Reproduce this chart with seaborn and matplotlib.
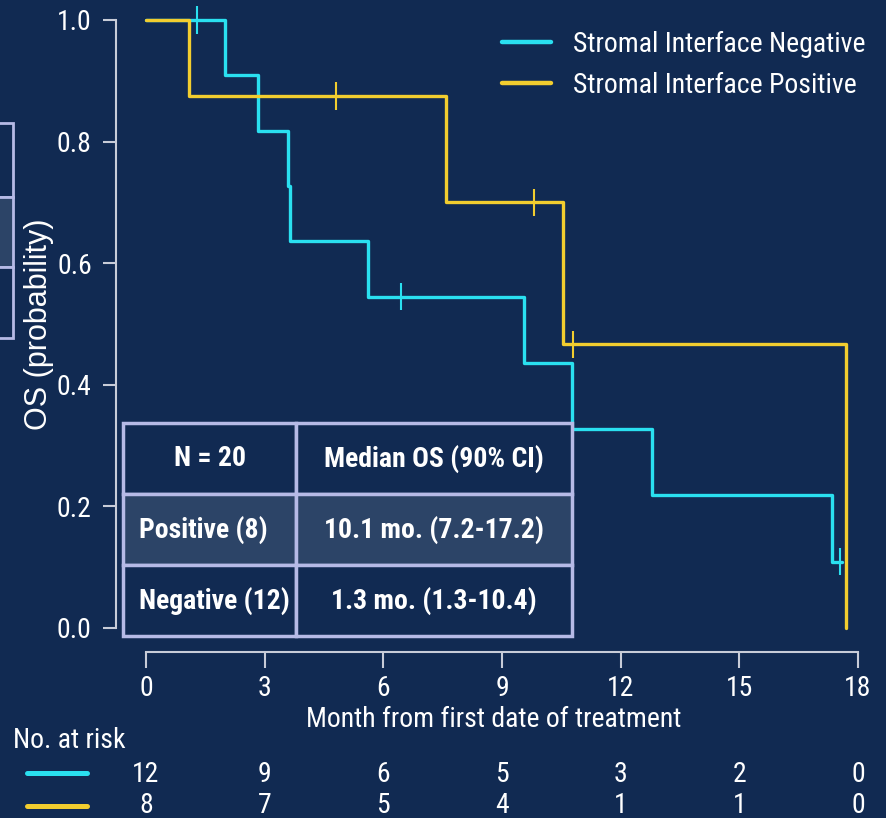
import numpy as np
import pandas as pd
import matplotlib
matplotlib.use("Agg")
import matplotlib.pyplot as plt
import matplotlib.transforms as mtrans
from matplotlib import font_manager as fm
from matplotlib.lines import Line2D
from matplotlib.patches import Rectangle
import seaborn as sns

# ---------------- data ----------------
groups = ["Stromal Interface Negative", "Stromal Interface Positive"]
neg_time = [0, 2.0, 2.83, 3.58, 3.63, 5.6, 9.55, 10.77, 12.8, 17.34, 17.6]
neg_surv = [1.0, 0.909, 0.818, 0.727, 0.636, 0.545, 0.436, 0.327, 0.218, 0.109, 0.109]
pos_time = [0, 1.09, 7.58, 10.55, 17.69]
pos_surv = [1.0, 0.875, 0.70, 0.467, 0.0]
neg_cens = [1.3, 6.45, 17.54]
pos_cens = [4.8, 9.8, 10.8]
risk_times = [0, 3, 6, 9, 12, 15, 18]
neg_risk = [12, 9, 6, 5, 3, 2, 0]
pos_risk = [8, 7, 5, 4, 1, 1, 0]
x_ticks = [0, 3, 6, 9, 12, 15, 18]
y_ticks = [0.0, 0.2, 0.4, 0.6, 0.8, 1.0]
table_rows = [["N = 20", "Median OS (90% CI)"],
              ["Positive (8)", "10.1 mo. (7.2-17.2)"],
              ["Negative (12)", "1.3 mo. (1.3-10.4)"]]

# ---------------- style ----------------
BG = "#112a52"
CYAN = "#2ae0f0"
YELLOW = "#f2cd2f"
AXC = "#c8ccd8"
BORDER = "#b6bae6"
MIDFILL = "#2c4467"
W, H = 886, 818

sns.set_theme(style="ticks")

# pick a narrow/condensed sans if one is installed
names = {f.name for f in fm.fontManager.ttflist}
narrow_family, narrow_stretch = None, "normal"
for cand in ["Liberation Sans Narrow", "Arial Narrow", "Roboto Condensed",
             "Open Sans Condensed", "DejaVu Sans Condensed", "Noto Sans Condensed"]:
    if cand in names:
        narrow_family = cand
        break
if narrow_family is None:
    for f in fm.fontManager.ttflist:
        if f.name in ("Liberation Sans", "Noto Sans", "Open Sans", "Roboto", "DejaVu Sans") \
                and f.stretch in ("condensed", "semi-condensed", "extra-condensed"):
            narrow_family, narrow_stretch = f.name, f.stretch
            break
if narrow_family is None:
    narrow_family = "Liberation Sans"
    FS = 16.5
else:
    FS = 20

plt.rcParams["font.family"] = [narrow_family, "Liberation Sans", "DejaVu Sans"]
plt.rcParams["font.stretch"] = narrow_stretch
plt.rcParams["text.color"] = "white"
REG = ["Liberation Sans", "DejaVu Sans"]

pal = {groups[0]: CYAN, groups[1]: YELLOW}


def fx(px):
    return px / W


def fy(py):
    return 1 - py / H


curve_df = pd.concat([
    pd.DataFrame({"time": neg_time, "surv": neg_surv, "group": groups[0]}),
    pd.DataFrame({"time": pos_time, "surv": pos_surv, "group": groups[1]}),
], ignore_index=True)


def step_val(times, survs, t):
    i = np.searchsorted(times, t, side="right") - 1
    return survs[i]


cens_df = pd.concat([
    pd.DataFrame({"time": neg_cens,
                  "surv": [step_val(neg_time, neg_surv, c) for c in neg_cens],
                  "group": groups[0]}),
    pd.DataFrame({"time": pos_cens,
                  "surv": [step_val(pos_time, pos_surv, c) for c in pos_cens],
                  "group": groups[1]}),
], ignore_index=True)

fig = plt.figure(figsize=(W / 100, H / 100), dpi=100, facecolor=BG)
ax = fig.add_axes([fx(146), 1 - 628 / H, 712 / W, 608 / H], facecolor=BG)

sns.lineplot(data=curve_df, x="time", y="surv", hue="group", hue_order=groups,
             palette=pal, drawstyle="steps-post", estimator=None, linewidth=2.4,
             ax=ax, clip_on=False)
sns.scatterplot(data=cens_df, x="time", y="surv", hue="group", hue_order=groups,
                palette=pal, marker="|", s=380, linewidth=1.5, legend=False,
                ax=ax, clip_on=False, zorder=5)

ax.set_xlim(0, 18)
ax.set_ylim(0, 1)
ax.set_xticks(x_ticks)
ax.set_yticks(y_ticks)
ax.set_yticklabels([f"{v:.1f}" for v in y_ticks])
# offsets in points (30 px left, 24 px down)
sns.despine(ax=ax, offset={"left": 30 * 0.72, "bottom": 24 * 0.72}, trim=True)
for s in ("left", "bottom"):
    ax.spines[s].set_color(AXC)
    ax.spines[s].set_linewidth(1.5)
ax.tick_params(axis="both", colors=AXC, labelcolor="white", width=1.5, labelsize=FS)
ax.tick_params(axis="y", length=9.4, pad=8)
ax.tick_params(axis="x", length=11.5, pad=5)
ax.grid(False)

ax.set_ylabel("OS (probability)", fontsize=22, family=REG, color="white")
ax.yaxis.set_label_coords((54 - 146) / 712, 0.5)
ax.set_xlabel("Month from first date of treatment", fontsize=FS, color="white", va="top")
ax.xaxis.set_label_coords((494 - 146) / 712, (628 - 706) / 608)

# legend
handles, labels = ax.get_legend_handles_labels()
fs_px = FS / 0.72
leg = ax.legend(handles, labels, loc="upper left",
                bbox_to_anchor=(fx(502), fy(31)), bbox_transform=fig.transFigure,
                frameon=False, fontsize=FS, handlelength=49 / fs_px,
                handletextpad=22 / fs_px, labelspacing=0.5,
                borderpad=0, borderaxespad=0, labelcolor="white")
for ln in leg.get_lines():
    ln.set_linewidth(3.2)

# inset table
tx0, tx1, ty0, ty1 = 123, 572, 423, 636
bbox = [(tx0 - 146) / 712, (628 - ty1) / 608, (tx1 - tx0) / 712, (ty1 - ty0) / 608]
tbl = ax.table(cellText=table_rows, bbox=bbox, cellLoc="center",
               colWidths=[173 / 449, 276 / 449])
tbl.auto_set_font_size(False)
tbl.set_fontsize(FS)
tbl.set_clip_on(False)
tbl.set_zorder(6)
for (r, c), cell in tbl.get_celld().items():
    cell.set_edgecolor(BORDER)
    cell.set_linewidth(2.5)
    cell.set_facecolor(MIDFILL if r == 1 else BG)
    cell.set_clip_on(False)
    t = cell.get_text()
    t.set_color("white")
    t.set_fontweight("bold")
    if c == 0 and r > 0:
        cell._loc = "left"
        t.set_ha("left")
        cell.PAD = 0.09

# number at risk
trans = mtrans.blended_transform_factory(ax.transData, fig.transFigure)
fig.text(fx(13), fy(748), "No. at risk", fontsize=FS, color="white", va="baseline", ha="left")
for t, n in zip(risk_times, neg_risk):
    ax.text(t, fy(782), str(n), transform=trans, ha="center", va="baseline",
            fontsize=FS, color="white", clip_on=False)
for t, n in zip(risk_times, pos_risk):
    ax.text(t, fy(813), str(n), transform=trans, ha="center", va="baseline",
            fontsize=FS, color="white", clip_on=False)
for yy, col in ((773, CYAN), (806, YELLOW)):
    fig.add_artist(Line2D([fx(27), fx(87)], [fy(yy), fy(yy)], color=col,
                          linewidth=3.6, solid_capstyle="round",
                          transform=fig.transFigure))

# partial box at left edge (cropped slide element)
for (y0, y1), fc in (((123, 197), BG), ((197, 267), MIDFILL), ((267, 338), BG)):
    fig.add_artist(Rectangle((fx(-10), fy(y1)), fx(23), (y1 - y0) / H,
                             transform=fig.transFigure, facecolor=fc,
                             edgecolor=BORDER, linewidth=2))

fig.savefig("out.png", dpi=100, facecolor=BG)
